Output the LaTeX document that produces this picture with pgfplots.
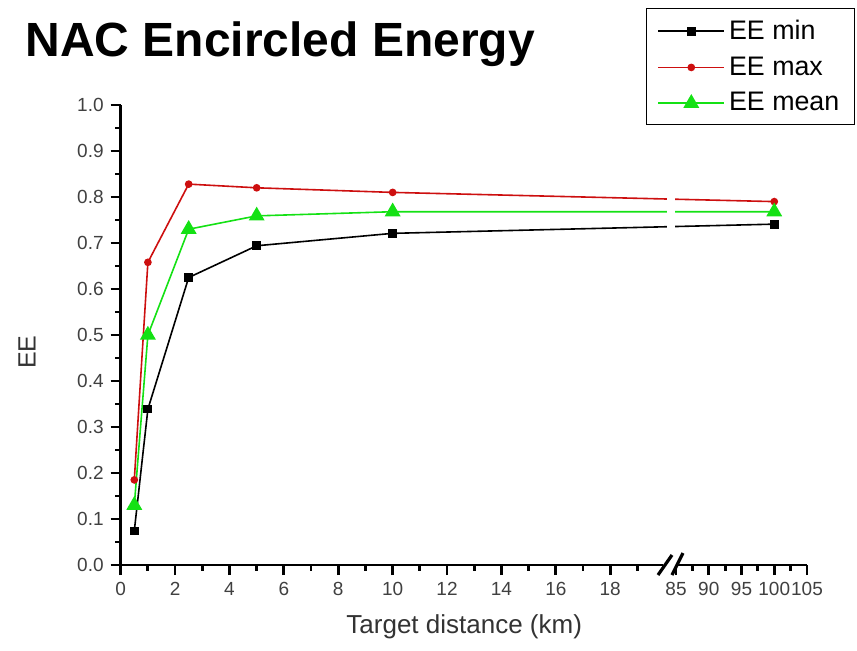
\documentclass[border=0pt]{standalone}
\usepackage{fontspec}
\setmainfont{Liberation Sans}
\usepackage{pgfplots}
\pgfplotsset{compat=1.18}
\definecolor{eered}{RGB}{205,15,15}
\definecolor{eegreen}{RGB}{20,225,20}
\begin{document}
\begin{tikzpicture}
\path[use as bounding box] (0,0) rectangle (428.5pt,325pt);
\node[anchor=base west, font=\fontsize{24}{28}\selectfont\bfseries, inner sep=0pt] at (12.5pt,297pt) {NAC Encircled Energy};
\begin{axis}[
  at={(60.35pt,42.5pt)}, anchor=south west,
  scale only axis, width=343.15pt, height=230pt,
  xmin=0, xmax=25.236, ymin=0, ymax=1,
  axis lines=left, axis line style={-, line width=1.3pt},
  x axis line style={draw=none},
  /pgf/number format/assume math mode=true,
  xtick={0,2,4,6,8,10,12,14,16,18,20.42,21.624,22.828,24.032,25.236},
  xticklabels={0,2,4,6,8,10,12,14,16,18,85,90,95,100,105},
  minor xtick={1,3,5,7,9,11,13,15,17,19,21.022,22.226,23.43,24.634},
  ytick={0,0.1,0.2,0.3,0.4,0.5,0.6,0.7,0.8,0.9,1.0},
  yticklabels={0.0,0.1,0.2,0.3,0.4,0.5,0.6,0.7,0.8,0.9,1.0},
  minor ytick={0.05,0.15,0.25,0.35,0.45,0.55,0.65,0.75,0.85,0.95},
  tick align=outside, major tick length=5pt, minor tick length=2.8pt,
  every tick/.style={black, line width=1.4pt},
  tick label style={font=\fontsize{9.5}{11}\selectfont, text=black!75},
  xlabel={Target distance (km)}, ylabel={EE},
  xlabel style={font=\fontsize{13}{15}\selectfont, text=black!80, at={(axis description cs:0.5005,-0.135)}, anchor=center},
  ylabel style={font=\fontsize{12.5}{15}\selectfont, text=black!80, at={(axis description cs:-0.1365,0.463)}, anchor=center},
  legend style={at={(axis description cs:0.7654,1.21)}, anchor=north west,
    font=\fontsize{13.4}{15}\selectfont, draw=black, line width=0.5pt,
    inner xsep=5.5pt, inner ysep=3.5pt, row sep=3.2pt},
  legend cell align=left,
  legend image code/.code={\draw[mark repeat=2,mark phase=2,#1] plot coordinates {(0pt,0pt) (16.5pt,0pt) (33pt,0pt)};},
  clip=false,
]
\addplot[black, line width=0.8pt, mark=square*, mark size=1.8pt] coordinates {
(0.5,0.074) (1,0.339) (2.5,0.625) (5,0.694) (10,0.721) (24.032,0.741)};
\addlegendentry{EE min}
\addplot[eered, line width=0.8pt, mark=*, mark size=1.5pt] coordinates {
(0.5,0.185) (1,0.658) (2.5,0.828) (5,0.820) (10,0.810) (24.032,0.790)};
\addlegendentry{EE max}
\addplot[eegreen, line width=0.8pt, mark=triangle*, mark size=3.8pt] coordinates {
(0.5,0.130) (1,0.500) (2.5,0.730) (5,0.759) (10,0.768) (24.032,0.768)};
\addlegendentry{EE mean}
\end{axis}
% break gap in the lines
\fill[white] (333.5pt,205pt) rectangle (337.5pt,235pt);
% x axis segments
\draw[line width=1.3pt] (59.7pt,42.5pt) -- (331.5pt,42.5pt);
\draw[line width=1.3pt] (338pt,42.5pt) -- (403.5pt,42.5pt);
% break marks
\draw[line width=1.6pt] (329pt,37.5pt) -- (336pt,47.5pt);
\draw[line width=1.6pt] (336pt,37.5pt) -- (341.5pt,48.5pt);
\end{tikzpicture}
\end{document}
